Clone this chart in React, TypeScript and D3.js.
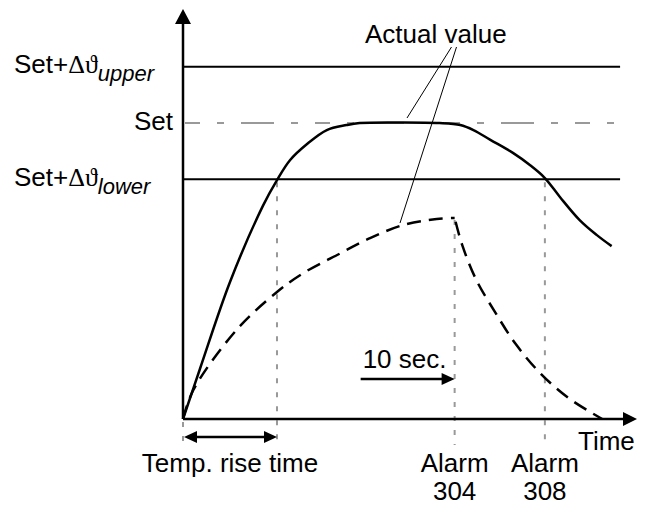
import React from "react";
import * as d3 from "d3";

// time in seconds, temperature in % of set point
const SET = 100;
const BAND = 19;
const RISE_TIME = 10;
const ALARM_304 = 28.9;
const ALARM_308 = 38.5;
const LINE_END = 46.5;
const AXIS_END = 48.3;

const actualValue: [number, number][] = [
  [0, 0], [1.8, 16.9], [5, 46.3], [8.5, 72], [10, 80.7], [11.4, 87.5], [13.2, 92.9],
  [15.3, 97.6], [17.4, 99.3], [18.8, 100], [23, 100.2], [27.3, 100], [29.5, 99.3],
  [30.9, 97.6], [32.7, 94.3], [35.1, 89.9], [36.9, 85.8], [38.5, 81.4], [40.1, 75],
  [42.2, 67.2], [44, 62.2], [45.6, 58.4],
];
const slowRise: [number, number][] = [
  [0, 0], [1.1, 9.8], [5.7, 30.1], [10, 42.9], [12.8, 49.3], [16.4, 55.4],
  [19.9, 61.1], [23.4, 65.5], [27, 67.6], [28.9, 67.9],
];
const slowFall: [number, number][] = [
  [28.9, 67.9], [29.7, 58.8], [31.2, 47], [33.2, 36.1], [35.4, 25.3],
  [38, 15.5], [41, 7.1], [44.6, 0],
];

const FONT = "'Liberation Sans', Arial, sans-serif";
const SERIF = "'Liberation Serif', 'DejaVu Serif', serif";
const GREY = "#999";

export default function App() {
  const x = d3.scaleLinear().domain([0, AXIS_END]).range([183, 637]);
  const y = d3.scaleLinear().domain([0, SET]).range([419, 123]);

  const line = d3
    .line<[number, number]>()
    .x((d) => x(d[0]))
    .y((d) => y(d[1]))
    .curve(d3.curveCatmullRom.alpha(0.5));

  const x0 = x(0);
  const y0 = y(0);
  const below = y0 + 26;

  const markers = [
    { t: 0, top: y0 + 3 },
    { t: RISE_TIME, top: y(SET - BAND) + 3 },
    { t: ALARM_304, top: y(slowRise[slowRise.length - 1][1]) + 2 },
    { t: ALARM_308, top: y(SET - BAND) + 3 },
  ];

  const arrowY = 437;
  const secY = 379;

  return (
    <svg
      width={645}
      height={505}
      style={{ position: "absolute", left: 0, top: 0, background: "#fff" }}
      fontFamily={FONT}
      fontSize={26}
    >
      {/* grey helper lines */}
      {markers.map((m, i) => (
        <line key={i} x1={x(m.t)} x2={x(m.t)} y1={m.top} y2={below}
          stroke={GREY} strokeWidth={2} strokeDasharray="5 9" />
      ))}
      <line x1={x0 + 2} x2={x(LINE_END)} y1={y(SET)} y2={y(SET)}
        stroke={GREY} strokeWidth={2} strokeDasharray="15 17 7 17 33 17 7 17" />

      {/* limit lines */}
      {[SET + BAND, SET - BAND].map((v) => (
        <line key={v} x1={x0} x2={x(LINE_END)} y1={y(v)} y2={y(v)} stroke="#000" strokeWidth={2} />
      ))}

      {/* axes */}
      <line x1={x0} x2={x0} y1={y0} y2={20} stroke="#000" strokeWidth={2.5} />
      <path d={`M${x0},9 L${x0 - 8},24 L${x0 + 8},24 Z`} fill="#000" />
      <line x1={x0} x2={626} y1={y0} y2={y0} stroke="#000" strokeWidth={2.5} />
      <path d={`M637,${y0} L623,${y0 - 7} L623,${y0 + 7} Z`} fill="#000" />

      {/* curves */}
      <path d={line(actualValue) ?? ""} fill="none" stroke="#000" strokeWidth={2.5} />
      <path d={line(slowRise) ?? ""} fill="none" stroke="#000" strokeWidth={2.5} strokeDasharray="14 8" />
      <path d={line(slowFall) ?? ""} fill="none" stroke="#000" strokeWidth={2.5} strokeDasharray="14 8" strokeDashoffset={-4} />

      {/* callout lines */}
      <line x1={451.5} y1={47} x2={407} y2={118} stroke="#000" strokeWidth={1} />
      <line x1={456.5} y1={47} x2={400} y2={223} stroke="#000" strokeWidth={1} />
      <text x={365} y={43}>Actual value</text>

      {/* y labels */}
      <text x={14} y={73}>
        Set+<tspan fontFamily={SERIF}>Δϑ</tspan>
        <tspan fontStyle="italic" fontSize={22} dy={8}>upper</tspan>
      </text>
      <text x={173} y={130} textAnchor="end">Set</text>
      <text x={14} y={186}>
        Set+<tspan fontFamily={SERIF}>Δϑ</tspan>
        <tspan fontStyle="italic" fontSize={22} dy={8}>lower</tspan>
      </text>

      {/* rise time arrow */}
      <line x1={x0 + 10} x2={x(RISE_TIME) - 10} y1={arrowY} y2={arrowY} stroke="#000" strokeWidth={2.5} />
      <path d={`M${x0 + 1},${arrowY} L${x0 + 14},${arrowY - 6} L${x0 + 14},${arrowY + 6} Z`} fill="#000" />
      <path d={`M${x(RISE_TIME)},${arrowY} L${x(RISE_TIME) - 13},${arrowY - 6} L${x(RISE_TIME) - 13},${arrowY + 6} Z`} fill="#000" />
      <text x={(x0 + x(RISE_TIME)) / 2} y={472} textAnchor="middle">Temp. rise time</text>

      {/* 10 sec arrow */}
      <line x1={x(ALARM_304 - 10)} x2={x(ALARM_304) - 10} y1={secY} y2={secY} stroke="#000" strokeWidth={2.5} />
      <path d={`M${x(ALARM_304)},${secY} L${x(ALARM_304) - 13},${secY - 6} L${x(ALARM_304) - 13},${secY + 6} Z`} fill="#000" />
      <text x={x(ALARM_304 - 10) + 2} y={368}>10 sec.</text>

      {/* x labels */}
      <text x={578} y={450}>Time</text>
      <text x={x(ALARM_304)} y={472} textAnchor="middle">Alarm</text>
      <text x={x(ALARM_304)} y={500} textAnchor="middle">304</text>
      <text x={x(ALARM_308)} y={472} textAnchor="middle">Alarm</text>
      <text x={x(ALARM_308)} y={500} textAnchor="middle">308</text>
    </svg>
  );
}
